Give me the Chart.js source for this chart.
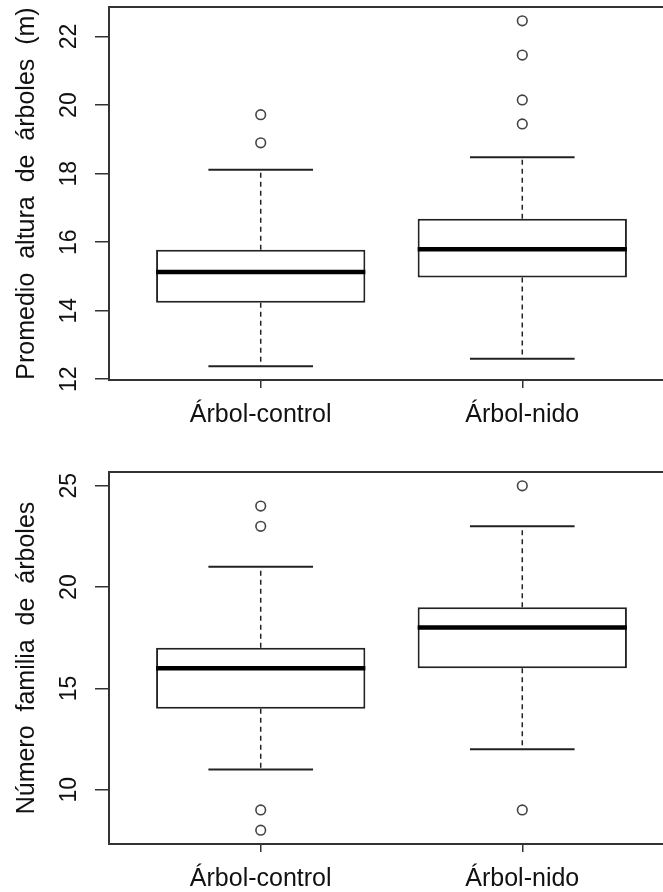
<!DOCTYPE html>
<html>
<head>
<meta charset="utf-8">
<script src="https://cdn.jsdelivr.net/npm/chart.js@4.4.0/dist/chart.umd.min.js"></script>
<style>
html, body { margin: 0; padding: 0; background: #fff; overflow: hidden; }
canvas { display: block; }
</style>
</head>
<body>
<canvas id="alturaChart" width="690" height="440"></canvas>
<canvas id="familiaChart" width="690" height="452"></canvas>
<script>
var categories = ['Árbol-control', 'Árbol-nido'];

// Promedio altura de árboles (m)
var alturaLow = [12.38, 12.6];
var alturaQ1 = [14.23, 14.97];
var alturaMed = [15.13, 15.79];
var alturaQ3 = [15.78, 16.68];
var alturaHigh = [18.11, 18.48];
var alturaOut = [[19.72, 18.9], [22.46, 21.46, 20.15, 19.45]];
var alturaTicks = [12, 14, 16, 18, 20, 22];

// Número familia de árboles
var familiaLow = [11, 12];
var familiaQ1 = [14, 16];
var familiaMed = [16, 18];
var familiaQ3 = [17, 19];
var familiaHigh = [21, 23];
var familiaOut = [[24, 23, 9, 8], [25, 9]];
var familiaTicks = [10, 15, 20, 25];

var ink = '#222';
var fontFamily = "'Liberation Sans', Arial, sans-serif";
var xs = categories.map(function (c, i) { return i + 1; });

var framePlugin = {
    id: 'frame',
    beforeDatasetsDraw: function (chart) {
        var a = chart.chartArea, c = chart.ctx;
        c.save();
        c.strokeStyle = '#333';
        c.lineWidth = 2;
        c.strokeRect(a.left, a.top, a.right - a.left, a.bottom - a.top);
        c.restore();
    }
};

// list of [from, to] pairs -> one line dataset broken by null points
function segments(fn) {
    var pts = [];
    xs.forEach(function (x, i) {
        fn(x, i).forEach(function (seg) {
            pts.push(seg[0], seg[1], { x: seg[1].x, y: null });
        });
    });
    return pts;
}

function makeBoxplot(id, low, q1, med, q3, high, out, yTicks, yTitle, padTop, xAxisHeight) {
    var all = low.concat(high, [].concat.apply([], out));
    var lo = Math.min.apply(null, all), hi = Math.max.apply(null, all);
    var ext = (hi - lo) * 0.04;
    var n = categories.length;

    var outliers = [];
    out.forEach(function (vals, i) {
        vals.forEach(function (v) { outliers.push({ x: xs[i], y: v }); });
    });

    return new Chart(document.getElementById(id), {
        type: 'line',
        data: {
            datasets: [{
                label: 'median',
                data: segments(function (x, i) {
                    return [[{ x: x - 0.4, y: med[i] }, { x: x + 0.4, y: med[i] }]];
                }),
                borderColor: '#000',
                borderWidth: 4.5,
                pointRadius: 0
            }, {
                type: 'bar',
                label: 'box',
                data: xs.map(function (x, i) { return { x: x, y: [q1[i], q3[i]] }; }),
                backgroundColor: '#fff',
                borderColor: ink,
                borderWidth: 2,
                borderSkipped: false,
                barPercentage: 0.8,
                categoryPercentage: 1,
                grouped: false
            }, {
                label: 'whiskers',
                data: segments(function (x, i) {
                    return [[{ x: x, y: q3[i] }, { x: x, y: high[i] }],
                            [{ x: x, y: q1[i] }, { x: x, y: low[i] }]];
                }),
                borderColor: ink,
                borderWidth: 1.5,
                borderDash: [5, 4],
                pointRadius: 0
            }, {
                label: 'staples',
                data: segments(function (x, i) {
                    return [[{ x: x - 0.2, y: high[i] }, { x: x + 0.2, y: high[i] }],
                            [{ x: x - 0.2, y: low[i] }, { x: x + 0.2, y: low[i] }]];
                }),
                borderColor: ink,
                borderWidth: 2,
                pointRadius: 0
            }, {
                label: 'outliers',
                data: outliers,
                showLine: false,
                pointStyle: 'circle',
                pointRadius: 4.8,
                pointBorderWidth: 1.6,
                pointBorderColor: '#444',
                pointBackgroundColor: 'rgba(0,0,0,0)'
            }]
        },
        options: {
            responsive: false,
            animation: false,
            events: [],
            spanGaps: false,
            layout: { padding: { top: padTop, right: 16, left: 0, bottom: 0 } },
            plugins: { legend: { display: false }, tooltip: { enabled: false } },
            scales: {
                x: {
                    type: 'linear',
                    min: 0.5 - 0.04 * n,
                    max: n + 0.5 + 0.04 * n,
                    offset: false,
                    afterBuildTicks: function (s) { s.ticks = xs.map(function (v) { return { value: v }; }); },
                    afterFit: function (s) { s.height = xAxisHeight; s.paddingLeft = 0; s.paddingRight = 0; },
                    grid: { display: true, drawOnChartArea: false, drawTicks: true, tickLength: 8, color: '#333', lineWidth: 1.5, offset: false },
                    border: { display: false },
                    ticks: {
                        autoSkip: false, maxRotation: 0, padding: 12, color: '#111',
                        font: { family: fontFamily, size: 25 },
                        callback: function (v) { return categories[v - 1]; }
                    }
                },
                y: {
                    min: lo - ext,
                    max: hi + ext,
                    afterBuildTicks: function (s) { s.ticks = yTicks.map(function (v) { return { value: v }; }); },
                    afterFit: function (s) { s.width = 109; s.paddingTop = 0; s.paddingBottom = 0; },
                    grid: { display: true, drawOnChartArea: false, drawTicks: true, tickLength: 14, color: '#333', lineWidth: 1.5 },
                    border: { display: false },
                    ticks: {
                        minRotation: 90, maxRotation: 90, crossAlign: 'center', padding: 13, color: '#111',
                        font: { family: fontFamily, size: 23 }
                    },
                    title: {
                        display: true, text: yTitle, color: '#111',
                        font: { family: fontFamily, size: 25 },
                        padding: { top: 12, bottom: 0 }
                    }
                }
            }
        },
        plugins: [framePlugin]
    });
}

makeBoxplot('alturaChart', alturaLow, alturaQ1, alturaMed, alturaQ3, alturaHigh, alturaOut,
    alturaTicks, 'Promedio  altura  de  árboles  (m)', 7, 60);
makeBoxplot('familiaChart', familiaLow, familiaQ1, familiaMed, familiaQ3, familiaHigh, familiaOut,
    familiaTicks, 'Número  familia  de  árboles', 32, 48);
</script>
</body>
</html>
